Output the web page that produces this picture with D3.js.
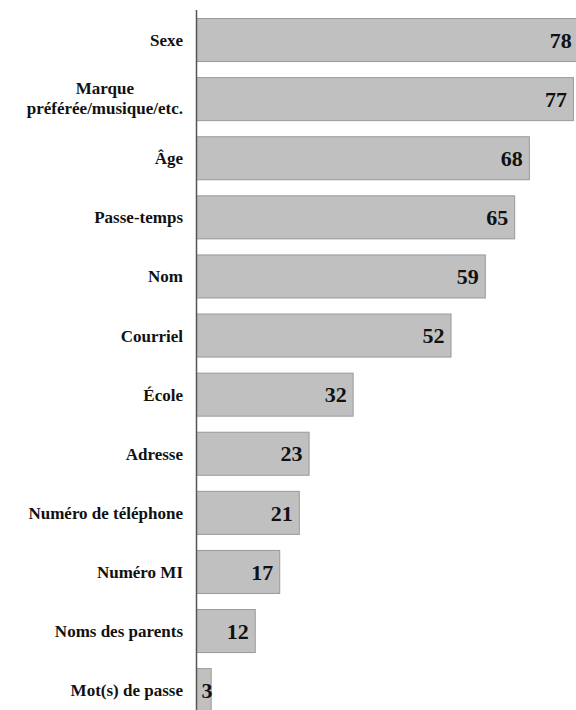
<!DOCTYPE html>
<html><head><meta charset="utf-8">
<script src="https://cdn.jsdelivr.net/npm/d3@7"></script>
<style>html,body{margin:0;padding:0;background:#fff;overflow:hidden}</style>
</head><body>
<svg id="c" width="576" height="710"></svg>
<script>
const categories = ["Sexe", "Marque\npréférée/musique/etc.", "Âge", "Passe-temps", "Nom", "Courriel", "École", "Adresse", "Numéro de téléphone", "Numéro MI", "Noms des parents", "Mot(s) de passe"];
const values = [78, 77, 68, 65, 59, 52, 32, 23, 21, 17, 12, 3];

const svg = d3.select("#c");
const font = "'Liberation Serif', 'Times New Roman', serif";
const x0 = 196.5;
const x = d3.scaleLinear().domain([0, 78]).range([x0, 578.3]);
const y = d3.scaleBand().domain(categories).range([10, 719.2]).paddingInner(0.272).paddingOuter(0.136);

svg.selectAll("rect.bar").data(values).join("rect")
  .attr("class", "bar")
  .attr("x", x0)
  .attr("y", (d, i) => y(categories[i]) + 0.5)
  .attr("width", d => x(d) - x0)
  .attr("height", y.bandwidth())
  .attr("fill", "#c0c0c0")
  .attr("stroke", "#999")
  .attr("stroke-width", 1);

// axis line
svg.append("line").attr("x1", x0).attr("x2", x0).attr("y1", 10).attr("y2", 720)
  .attr("stroke", "#555").attr("stroke-width", 1.5);

// category labels
const labelRight = 183;
categories.forEach((c, i) => {
  const lines = c.split("\n");
  const cy = y(c) + y.bandwidth() / 2 + 0.5 - (lines.length > 1 ? 1 : 0);
  const g = svg.append("g");
  const lh = 20;
  const texts = lines.map((ln, k) => g.append("text")
    .attr("y", cy + (k - (lines.length - 1) / 2) * lh)
    .attr("dy", "0.35em")
    .style("font-family", font).style("font-weight", "bold").style("font-size", "17px")
    .attr("fill", "#111")
    .text(ln));
  if (lines.length === 1) {
    texts[0].attr("x", labelRight).attr("text-anchor", "end");
  } else {
    const maxW = d3.max(texts, t => t.node().getComputedTextLength());
    texts.forEach(t => t.attr("x", labelRight - maxW / 2).attr("text-anchor", "middle"));
  }
});

// value labels
svg.selectAll("text.val").data(values).join("text")
  .attr("class", "val")
  .attr("x", d => (x(d) - x0 < 30) ? x0 + 5 : x(d) - 6.5)
  .attr("text-anchor", d => (x(d) - x0 < 30) ? "start" : "end")
  .attr("y", (d, i) => y(categories[i]) + y.bandwidth() / 2 + 0.5)
  .attr("dy", "0.35em")
  .style("font-family", font).style("font-weight", "bold").style("font-size", "22px")
  .attr("fill", "#111")
  .text(d => d);
</script>
</body></html>
